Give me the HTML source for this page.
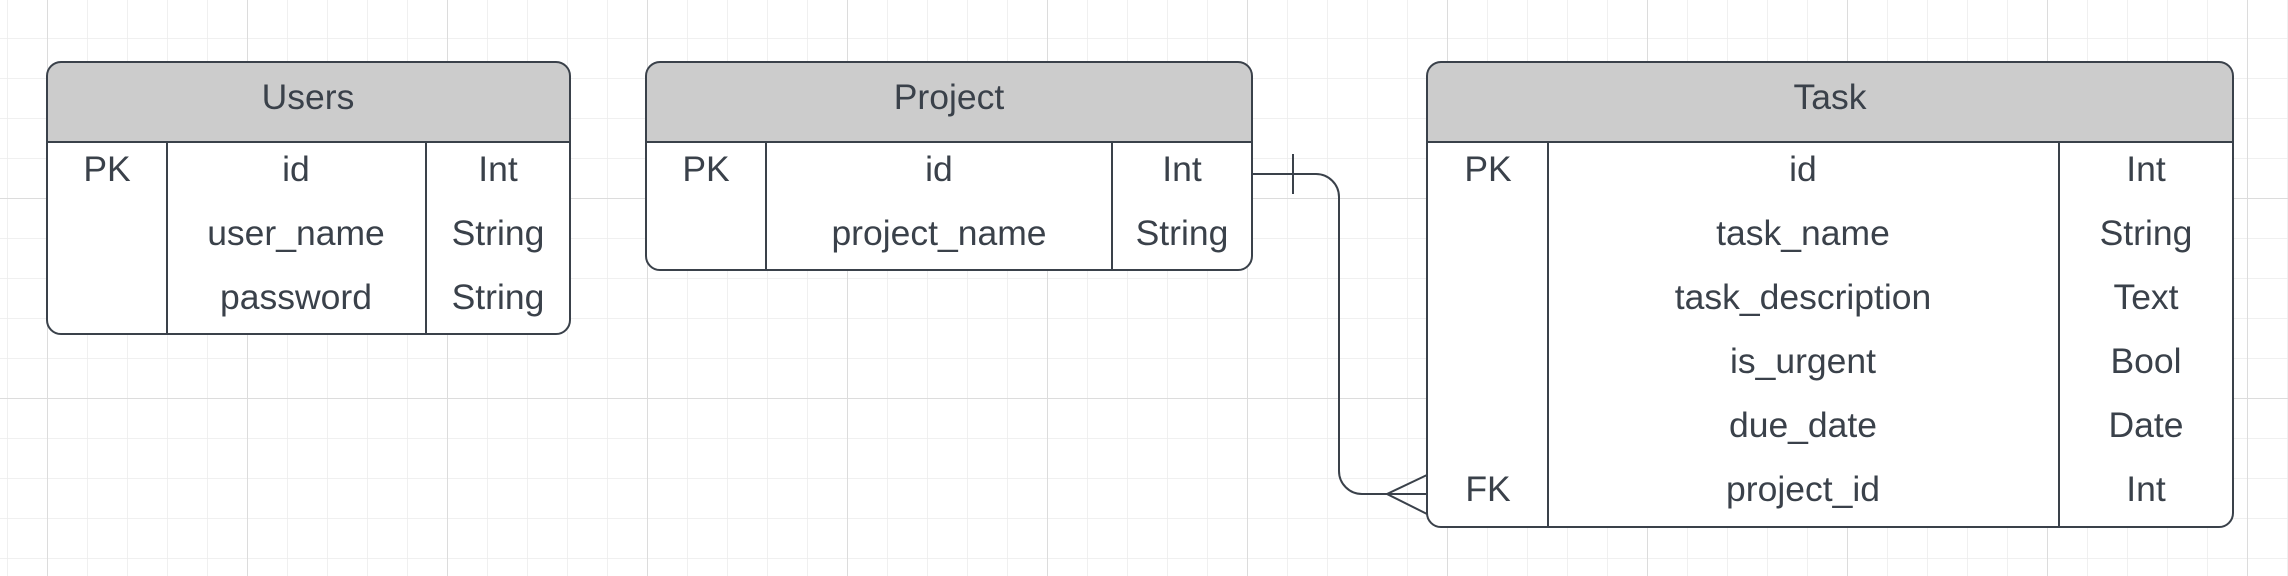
<!DOCTYPE html>
<html><head><meta charset="utf-8"><style>
html,body{margin:0;padding:0;background:#fff;}
svg{display:block;}
text{font-family:"Liberation Sans",sans-serif;font-size:35.5px;fill:#3a414a;text-anchor:middle;}
</style></head><body>
<svg width="2288" height="576" viewBox="0 0 2288 576" xmlns="http://www.w3.org/2000/svg">
<defs>
<pattern id="minor" width="40" height="40" patternUnits="userSpaceOnUse" x="7" y="-2">
<path d="M0 0H40M0 0V40" fill="none" stroke="#ececec" stroke-width="1.5"/>
</pattern>
<pattern id="major" width="200" height="200" patternUnits="userSpaceOnUse" x="47" y="-2">
<path d="M0 0H200M0 0V200" fill="none" stroke="#dcdcdc" stroke-width="2"/>
</pattern>
</defs>
<rect width="2288" height="576" fill="url(#minor)"/>
<rect width="2288" height="576" fill="url(#major)"/>

<g stroke="#3a414a" stroke-width="2" fill="none">
<path d="M47 142V76a14 14 0 0 1 14-14H556a14 14 0 0 1 14 14V142Z" fill="#cccccc"/>
<path d="M47 142V320a14 14 0 0 0 14 14H556a14 14 0 0 0 14-14V142Z" fill="#fff"/>
<path d="M167 142V334M426 142V334"/>
<path d="M646 142V76a14 14 0 0 1 14-14H1238a14 14 0 0 1 14 14V142Z" fill="#cccccc"/>
<path d="M646 142V256a14 14 0 0 0 14 14H1238a14 14 0 0 0 14-14V142Z" fill="#fff"/>
<path d="M766 142V270M1112 142V270"/>
<path d="M1427 142V76a14 14 0 0 1 14-14H2219a14 14 0 0 1 14 14V142Z" fill="#cccccc"/>
<path d="M1427 142V513a14 14 0 0 0 14 14H2219a14 14 0 0 0 14-14V142Z" fill="#fff"/>
<path d="M1548 142V527M2059 142V527"/>
<path d="M1252 174H1316a23 23 0 0 1 23 23V471a23 23 0 0 0 23 23H1427"/>
<path d="M1293 154V194"/>
<path d="M1427 475L1387 494L1427 514"/>
</g>

<text x="308" y="109">Users</text>
<text x="107" y="181">PK</text>
<text x="296" y="181">id</text>
<text x="498" y="181">Int</text>
<text x="296" y="245">user_name</text>
<text x="498" y="245">String</text>
<text x="296" y="309">password</text>
<text x="498" y="309">String</text>

<text x="949" y="109">Project</text>
<text x="706" y="181">PK</text>
<text x="939" y="181">id</text>
<text x="1182" y="181">Int</text>
<text x="939" y="245">project_name</text>
<text x="1182" y="245">String</text>

<text x="1830" y="109">Task</text>
<text x="1488" y="181">PK</text>
<text x="1803" y="181">id</text>
<text x="2146" y="181">Int</text>
<text x="1803" y="245">task_name</text>
<text x="2146" y="245">String</text>
<text x="1803" y="309">task_description</text>
<text x="2146" y="309">Text</text>
<text x="1803" y="373">is_urgent</text>
<text x="2146" y="373">Bool</text>
<text x="1803" y="437">due_date</text>
<text x="2146" y="437">Date</text>
<text x="1488" y="501">FK</text>
<text x="1803" y="501">project_id</text>
<text x="2146" y="501">Int</text>
</svg>
</body></html>
